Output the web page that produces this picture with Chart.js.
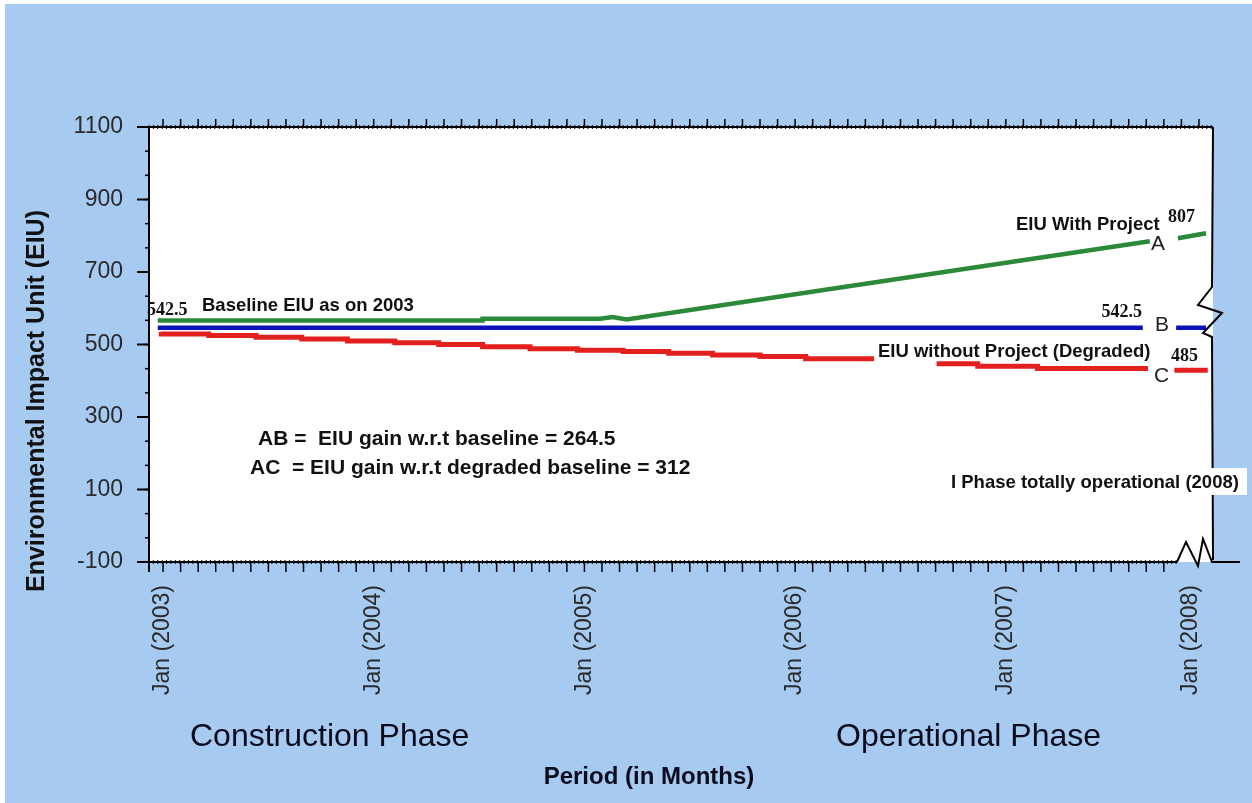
<!DOCTYPE html>
<html><head><meta charset="utf-8">
<script src="https://cdn.jsdelivr.net/npm/chart.js@4.4.1/dist/chart.umd.min.js"></script>
<style>html,body{margin:0;padding:0;background:#fff;overflow:hidden}canvas{display:block}</style>
</head><body>
<canvas id="c" width="1252" height="803"></canvas>
<script>
// x values: months counted from Jan 2003 (the axis is broken just before Jan 2008)
const tickMonths = [0, 12, 24, 36, 48, 58.5];
const tickLabels = ['Jan (2003)', 'Jan (2004)', 'Jan (2005)', 'Jan (2006)', 'Jan (2007)', 'Jan (2008)'];
const yTickValues = [-100, 100, 300, 500, 700, 900, 1100];

// EIU With Project (green)
const greenMonths = [-0.3, 18.2, 18.2, 24.9, 25.6, 26.4, 56.2, 57.0, 57.8, 59.4];
const greenValues = [566, 566, 571, 571, 576, 569, 785, null, 793, 807];

// Baseline EIU (blue)
const blueMonths = [-0.3, 55.8, 56.8, 57.7, 59.4];
const blueValues = [546, 546, null, 546, 546];

// EIU without Project, degraded (red, stepped)
const redMonths = [-0.1, 2.6, 5.3, 7.9, 10.5, 13.2, 15.7, 18.2, 20.9, 23.6, 26.2, 28.8, 31.3, 34.0, 36.6, 39.3, 40.5,
                   42.0, 44.2, 46.4, 49.8, 52.8, 56.1, 56.8, 57.6, 59.5];
const redValues = [535, 529, 525, 520, 515, 510, 505, 500, 494, 488, 484, 481, 476, 471, 467, 461, 461,
                   null, 454, 447, 440, 434, 434, null, 429, 429];

const pts = (xs, ys) => xs.map((x, i) => ({x, y: ys[i]}));

const SANS = '"Liberation Sans", Arial, sans-serif';
const SERIF = '"Liberation Serif", "Times New Roman", serif';

const decor = {
  id: 'decor',
  beforeDraw(chart) {
    const {ctx, chartArea: a} = chart;
    ctx.save();
    ctx.fillStyle = '#ffffff';
    ctx.fillRect(0, 0, chart.width, chart.height);
    ctx.fillStyle = '#a6caf0';
    ctx.fillRect(5, 4, chart.width - 5, chart.height - 4);
    ctx.fillStyle = '#ffffff';
    ctx.fillRect(a.left, a.top, a.right - a.left, a.bottom - a.top);
    ctx.restore();
  },
  afterDraw(chart) {
    const {ctx, chartArea: a} = chart;
    const xs = chart.scales.x, ys = chart.scales.y;
    ctx.save();
    ctx.strokeStyle = '#000';
    const seg = (x1, y1, x2, y2, w) => { ctx.lineWidth = w; ctx.beginPath(); ctx.moveTo(x1, y1); ctx.lineTo(x2, y2); ctx.stroke(); };
    // left axis
    seg(a.left, a.top, a.left, a.bottom + 10, 2);
    // top axis
    seg(a.left, a.top, a.right, a.top, 2);
    // bottom axis up to the break
    const bxEnd = a.right - 36;
    seg(a.left, a.bottom, bxEnd, a.bottom, 2);
    // bottom break zigzag
    ctx.lineWidth = 2;
    ctx.beginPath();
    ctx.moveTo(bxEnd, a.bottom);
    ctx.lineTo(a.right - 27, a.bottom - 20);
    ctx.lineTo(a.right - 15, a.bottom + 4);
    ctx.lineTo(a.right - 10, a.bottom - 23);
    ctx.lineTo(a.right - 1, a.bottom);
    ctx.lineTo(a.right + 27, a.bottom);
    ctx.stroke();
    // right axis with break
    ctx.beginPath();
    ctx.moveTo(a.right, a.top);
    ctx.lineTo(a.right - 1, 287);
    ctx.lineTo(a.right - 15, 305);
    ctx.lineTo(a.right + 9, 313);
    ctx.lineTo(a.right - 10, 333);
    ctx.lineTo(a.right - 1, 337);
    ctx.lineTo(a.right, a.bottom - 2);
    ctx.stroke();
    // fine hatching on top and bottom axes
    for (let m = xs.min; m <= xs.max; m += 0.25) {
      const px = xs.getPixelForValue(m);
      seg(px, a.top - 2, px, a.top + 2, 1);
      if (px < bxEnd) seg(px, a.bottom - 2, px, a.bottom + 2, 1);
    }
    // monthly ticks
    for (let m = 0; m <= 59; m++) {
      const px = xs.getPixelForValue(m);
      seg(px, a.top - 8, px, a.top, 1.5);
      if (px < bxEnd) seg(px, a.bottom, px, a.bottom + 10, 1.5);
    }
    // y ticks: major at labels, minor at thirds
    yTickValues.forEach(v => { const py = ys.getPixelForValue(v); seg(a.left - 12, py, a.left, py, 2); });
    for (let k = 0; k <= 18; k++) {
      const py = ys.getPixelForValue(-100 + k * 200 / 3);
      seg(a.left - 4, py, a.left, py, 1.5);
    }

    const T = (s, x, y, font, color, align) => {
      ctx.font = font; ctx.fillStyle = color || '#111'; ctx.textAlign = align || 'left';
      ctx.textBaseline = 'alphabetic'; ctx.fillText(s, x, y);
    };
    const B = 'bold 18.5px ' + SANS;
    const N = 'bold 18px ' + SERIF;
    const L = '21px ' + SANS;
    T('542.5', 147, 315, N);
    T('Baseline EIU as on 2003', 202, 311, B);
    T('EIU With Project', 1016, 230, B);
    T('807', 1168, 222, N);
    T('A', 1151, 250, L, '#222');
    T('542.5', 1142, 317, N, '#111', 'right');
    T('B', 1155, 331, L, '#222');
    T('EIU without Project (Degraded)', 878, 357, B);
    T('485', 1171, 361, N);
    T('C', 1154, 382, L, '#222');
    T('AB =  EIU gain w.r.t baseline = 264.5', 258, 445, 'bold 21px ' + SANS);
    T('AC  = EIU gain w.r.t degraded baseline = 312', 250, 474, 'bold 21px ' + SANS);
    // label box over right axis
    ctx.fillStyle = '#ffffff';
    ctx.fillRect(945, 468, 302, 27);
    T('I Phase totally operational (2008)', 951, 488, B);
    // phase captions and axis titles
    T('Construction Phase', 190, 746, '32px ' + SANS, '#0b0b1e');
    T('Operational Phase', 836, 746, '32px ' + SANS, '#0b0b1e');
    T('Period (in Months)', 649, 784, 'bold 24px ' + SANS, '#0b0b1e', 'center');
    ctx.translate(37, 401);
    ctx.rotate(-Math.PI / 2);
    ctx.font = 'bold 25px ' + SANS; ctx.fillStyle = '#111'; ctx.textAlign = 'center'; ctx.textBaseline = 'middle';
    ctx.fillText('Environmental Impact Unit (EIU)', 0, 0);
    ctx.restore();
  }
};

new Chart(document.getElementById('c'), {
  type: 'line',
  data: {
    datasets: [
      {label: 'EIU With Project', data: pts(greenMonths, greenValues), borderColor: '#2a8a3a', borderWidth: 4.5, pointRadius: 0, tension: 0},
      {label: 'Baseline EIU', data: pts(blueMonths, blueValues), borderColor: '#0b12b8', borderWidth: 4.5, pointRadius: 0, tension: 0},
      {label: 'EIU without Project', data: pts(redMonths, redValues), borderColor: '#e3201e', borderWidth: 5, pointRadius: 0, stepped: 'after'}
    ]
  },
  options: {
    responsive: false,
    animation: false,
    devicePixelRatio: 1,
    spanGaps: false,
    layout: {padding: {top: 127, right: 39, left: 0, bottom: 0}},
    plugins: {legend: {display: false}, tooltip: {enabled: false}, title: {display: false}},
    scales: {
      x: {
        type: 'linear', min: -0.8, max: 59.8,
        afterBuildTicks: s => { s.ticks = tickMonths.map(v => ({value: v})); },
        afterFit: s => { s.height = 241; },
        grid: {display: false, drawTicks: false}, border: {display: false},
        ticks: {autoSkip: false, minRotation: 90, maxRotation: 90, padding: 23, color: '#2a2a2a',
                font: {family: SANS, size: 23}, callback: (v, i) => tickLabels[i]}
      },
      y: {
        min: -100, max: 1100,
        afterBuildTicks: s => { s.ticks = yTickValues.map(v => ({value: v})); },
        afterFit: s => { s.width = 149; },
        grid: {display: false, drawTicks: false}, border: {display: false},
        ticks: {padding: 26, color: '#2a2a2a', font: {family: SANS, size: 23}, callback: v => String(v)}
      }
    }
  },
  plugins: [decor]
});
</script>
</body></html>
